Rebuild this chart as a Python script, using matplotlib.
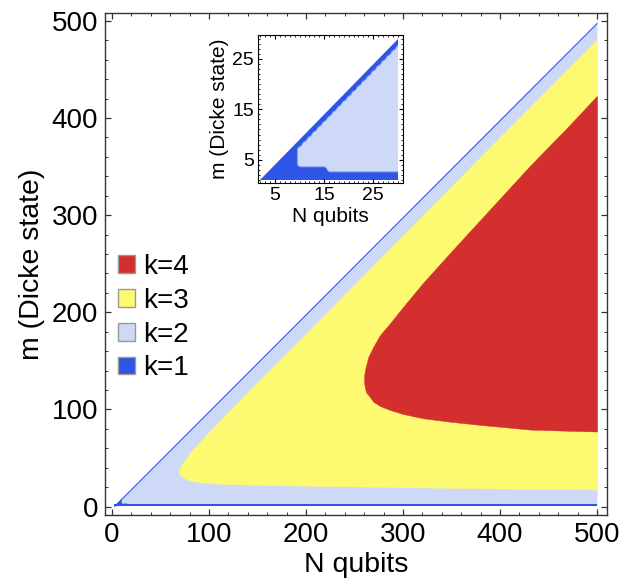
import numpy as np
import matplotlib
matplotlib.use("Agg")
import matplotlib.pyplot as plt
from matplotlib.patches import Patch, Polygon
from matplotlib.colors import LinearSegmentedColormap
from matplotlib.ticker import MultipleLocator, FixedLocator

plt.rcParams['font.family'] = ['Liberation Sans', 'DejaVu Sans']

# colours for each k
c_k4 = '#d32f2e'
c_k3 = '#fdfa72'
c_k2 = '#cdd9f7'
c_k1 = '#2f55e6'

# --- main plot data (boundaries) ---
# whole domain N=2..500, m=1..N-1
dom_N = np.array([2, 500])
# k=1 strips at m=1,2 and m=N-1,N-2 plus small blob at small N
blob_N = np.array([2, 9.5, 9.5, 15.5])
blob_top = np.array([1, 8.5, 3.5, 3.5])

# k=3 region
yellow_N = np.array([69, 69.2, 69.5, 70.5, 72, 74, 77, 80, 85, 91, 100, 115,
                     150, 184, 230, 300, 400, 500])
yellow_lo = np.array([35.5, 34, 33, 31.8, 30.6, 29.5, 28, 26.8, 25.8, 25, 24.2,
                      23.3, 22.3, 21.6, 21, 19.9, 18.5, 17.5])
yellow_hi = np.array([35.5, 37, 38.5, 40.7, 43.4, 46.3, 50.7, 54.7, 60.5, 67.2,
                      76.8, 92.5, 128.2, 162.4, 208.7, 279.5, 380.5, 481])

# k=4 region
red_N = np.array([259.8, 260.1, 260.8, 262, 264.3, 269.4, 276.3, 286.6, 300.3,
                  321, 348.5, 380, 431, 470, 500])
red_lo = np.array([131, 126, 121.7, 117.5, 114.8, 107.9, 103.5, 99.4, 95.2,
                   90.8, 87.3, 84, 79.2, 78, 77.2])
red_hi = np.array([131, 136, 140.6, 145.5, 154.3, 164.6, 176.6, 188.7, 205.8,
                   230.7, 261.2, 295.5, 351, 391, 423])

legend_labels = ['k=4', 'k=3', 'k=2', 'k=1']
legend_colors = [c_k4, c_k3, c_k2, c_k1]

# --- inset data: first and last m with k=2 for each N (0 = none) ---
inset_N = [2, 3, 4, 5, 6, 7, 8, 9, 10, 11, 12, 13, 14, 15, 16, 17, 18, 19, 20,
           21, 22, 23, 24, 25, 26, 27, 28, 29, 30]
inset_lo = [0, 0, 0, 0, 0, 0, 0, 0, 4, 4, 4, 4, 4, 4, 3, 3, 3, 3, 3,
            3, 3, 3, 3, 3, 3, 3, 3, 3, 3]
inset_hi = [0, 0, 0, 0, 0, 0, 0, 0, 7, 8, 9, 10, 11, 12, 13, 14, 15, 16, 17,
            18, 19, 20, 21, 22, 23, 24, 25, 26, 27]

W, H = 635, 583
fig = plt.figure(figsize=(W / 100, H / 100), dpi=100)
ax = fig.add_axes([105 / W, 1 - 515 / H, 502 / W, 502 / H])

ax.fill_between(dom_N, 1, dom_N - 1, color=c_k2, lw=0)
ax.fill_between(yellow_N, yellow_lo, yellow_hi, color=c_k3, lw=0.3, edgecolor=c_k3)
ax.fill_between(red_N, red_lo, red_hi, color=c_k4, lw=0.3, edgecolor=c_k4)
ax.fill_between(dom_N, 1, 2.5, color=c_k1, lw=0)
ax.fill_between(dom_N, dom_N - 2.5, dom_N - 1, color=c_k1, lw=0)
ax.fill_between(blob_N, 1, blob_top, color=c_k1, lw=0)

ax.set_xlim(-7.2, 510.3)
ax.set_ylim(-8.75, 508.2)
ax.xaxis.set_major_locator(MultipleLocator(100))
ax.xaxis.set_minor_locator(MultipleLocator(20))
ax.yaxis.set_major_locator(MultipleLocator(100))
ax.yaxis.set_minor_locator(MultipleLocator(20))
ax.tick_params(which='both', direction='in', top=True, right=True,
               labelsize=20, pad=5, color='#333333')
ax.tick_params(which='major', length=4, width=0.9)
ax.tick_params(which='minor', length=2.2, width=0.7)
for s in ax.spines.values():
    s.set_linewidth(1.0)
    s.set_color('#333333')
ax.set_xlabel('N qubits', fontsize=20.5, labelpad=3)
ax.set_ylabel('m (Dicke state)', fontsize=20.5, labelpad=5)

handles = [Patch(facecolor=c, edgecolor='#999999', lw=1) for c in legend_colors]
ax.legend(handles, legend_labels, loc='upper left', bbox_to_anchor=(0.026, 0.52),
          frameon=False, fontsize=20, handlelength=0.6, handleheight=0.6,
          handletextpad=0.3, labelspacing=0.28, borderpad=0, borderaxespad=0)

# --- inset ---
axin = fig.add_axes([258 / W, 1 - 183 / H, 145 / W, 148 / H])
K = np.ones((29, len(inset_N)))
for j, n in enumerate(inset_N):
    if inset_lo[j] > 0:
        K[inset_lo[j] - 1:inset_hi[j], j] = 2
cmap = LinearSegmentedColormap.from_list('k12', [(0, c_k1), (0.3, c_k1),
                                                 (0.7, c_k2), (1, c_k2)])
im = axin.imshow(K, extent=(1.5, 30.5, 0.5, 29.5), origin='lower', cmap=cmap,
                 vmin=1, vmax=2, interpolation='bilinear', aspect='auto')
tri = Polygon([(2, 1), (30, 1), (30, 29)], closed=True, transform=axin.transData)
im.set_clip_path(tri)
axin.set_xlim(1.5, 31.1)
axin.set_ylim(0.4, 29.7)
axin.xaxis.set_major_locator(FixedLocator([5, 15, 25]))
axin.yaxis.set_major_locator(FixedLocator([5, 15, 25]))
axin.xaxis.set_minor_locator(MultipleLocator(1))
axin.yaxis.set_minor_locator(MultipleLocator(1))
axin.tick_params(which='both', direction='in', top=True, right=True,
                 labelsize=14, pad=3)
axin.tick_params(which='major', length=3, width=0.8)
axin.tick_params(which='minor', length=1.2, width=0.6)
axin.set_xlabel('N qubits', fontsize=15, labelpad=2)
axin.set_ylabel('m (Dicke state)', fontsize=15, labelpad=2)

fig.savefig('out.png', dpi=100)
